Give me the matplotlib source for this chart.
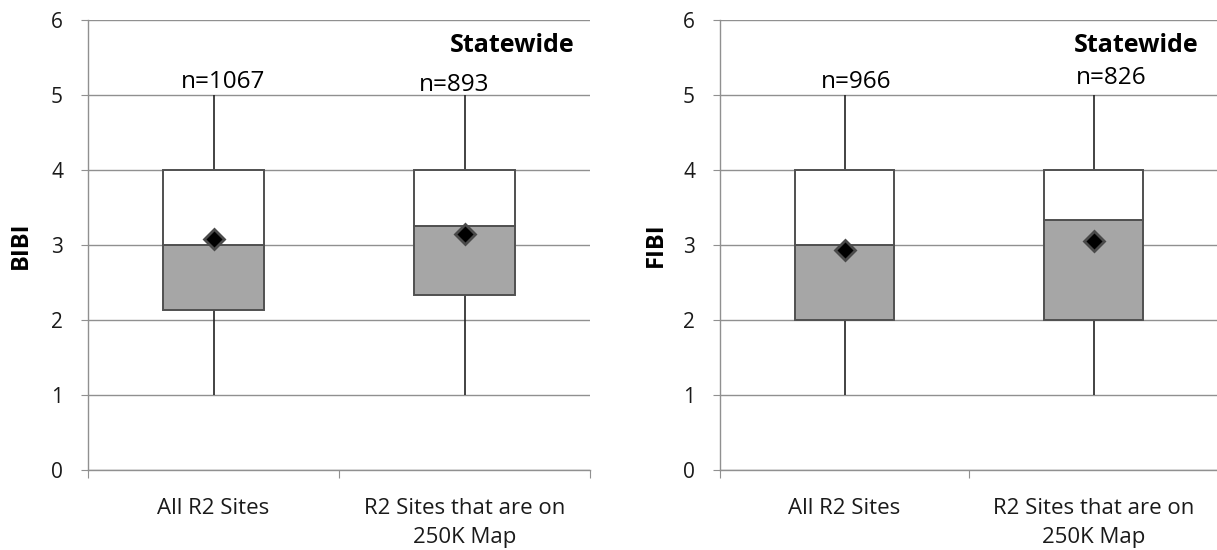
import matplotlib
matplotlib.use("Agg")
import matplotlib.pyplot as plt

plt.rcParams['font.family'] = ['Open Sans', 'DejaVu Sans']

categories = ["All R2 Sites", "R2 Sites that are on\n250K Map"]

# BIBI panel
bibi_min = [1.0, 1.0]
bibi_q1 = [2.14, 2.33]
bibi_med = [3.0, 3.26]
bibi_q3 = [4.0, 4.0]
bibi_max = [5.0, 5.0]
bibi_mean = [3.08, 3.15]
bibi_n = ["n=1067", "n=893"]

# FIBI panel
fibi_min = [1.0, 1.0]
fibi_q1 = [2.0, 2.0]
fibi_med = [3.0, 3.33]
fibi_q3 = [4.0, 4.0]
fibi_max = [5.0, 5.0]
fibi_mean = [2.94, 3.06]
fibi_n = ["n=966", "n=826"]

yticks = [0, 1, 2, 3, 4, 5, 6]

W, H = 1217, 550
fig = plt.figure(figsize=(W / 100, H / 100), dpi=100)

GRID = "#909090"
BOXEDGE = "#505050"
LOWFILL = "#a6a6a6"
TXT = "#1a1a1a"


def panel(ax, mn, q1, med, q3, mx, mean, ntext, ylabel, npos, swpos):
    xs = [0.5, 1.5]
    ax.set_xlim(0, 2)
    ax.set_ylim(0, 6)
    ax.set_yticks(yticks)
    ax.yaxis.grid(True, color=GRID, linewidth=1.0)
    ax.set_axisbelow(True)
    for s in ["top", "right"]:
        ax.spines[s].set_visible(False)
    for s in ["left", "bottom"]:
        ax.spines[s].set_color(GRID)
        ax.spines[s].set_linewidth(1.0)
    ax.tick_params(axis="y", length=5, color=GRID, labelsize=15, pad=13, labelcolor=TXT)
    ax.set_xticks([0, 1, 2])
    ax.set_xticklabels([])
    ax.tick_params(axis="x", length=6, color=GRID)
    ax.set_xticks(xs, minor=True)
    ax.set_xticklabels(categories, minor=True, fontsize=16, color=TXT,
                       linespacing=1.5, va="top")
    ax.tick_params(axis="x", which="minor", length=0, pad=20)
    bw = 0.4
    for i, x in enumerate(xs):
        ax.vlines(x, q3[i], mx[i], color="#222222", lw=1.2, zorder=2)
        ax.vlines(x, mn[i], q1[i], color="#222222", lw=1.2, zorder=2)
        ax.bar(x, med[i] - q1[i], bottom=q1[i], width=bw, color=LOWFILL,
               edgecolor=BOXEDGE, linewidth=1.4, zorder=3)
        ax.bar(x, q3[i] - med[i], bottom=med[i], width=bw, color="white",
               edgecolor=BOXEDGE, linewidth=1.4, zorder=3)
        ax.plot(x, mean[i], marker="D", ms=10.5, color="black",
                markeredgecolor="#4a4a4a", markeredgewidth=2, zorder=5)
        ax.text(npos[i][0], npos[i][1], ntext[i], fontsize=17.5, ha=npos[i][2],
                va="center", color="black", zorder=6)
    ax.text(swpos[0], swpos[1], "Statewide", fontsize=18, fontweight="bold",
            ha=swpos[2], va="center", color="black")
    ax.set_ylabel(ylabel, fontsize=17, fontweight="bold", color="black")


bottom = 1 - 470 / H
top = 1 - 20 / H
ax1 = fig.add_axes([88 / W, bottom, 502 / W, top - bottom])
panel(ax1, bibi_min, bibi_q1, bibi_med, bibi_q3, bibi_max, bibi_mean, bibi_n, "BIBI",
      [(0.54, 5.18, "center"), (1.46, 5.13, "center")], (1.94, 5.66, "right"))
ax1.yaxis.set_label_coords(-0.11, 0.5)

ax2 = fig.add_axes([720 / W, bottom, 498 / W, top - bottom])
panel(ax2, fibi_min, fibi_q1, fibi_med, fibi_q3, fibi_max, fibi_mean, fibi_n, "FIBI",
      [(0.545, 5.18, "center"), (1.43, 5.23, "left")], (1.42, 5.66, "left"))
ax2.yaxis.set_label_coords(-0.105, 0.5)

fig.savefig("out.png", dpi=100)
